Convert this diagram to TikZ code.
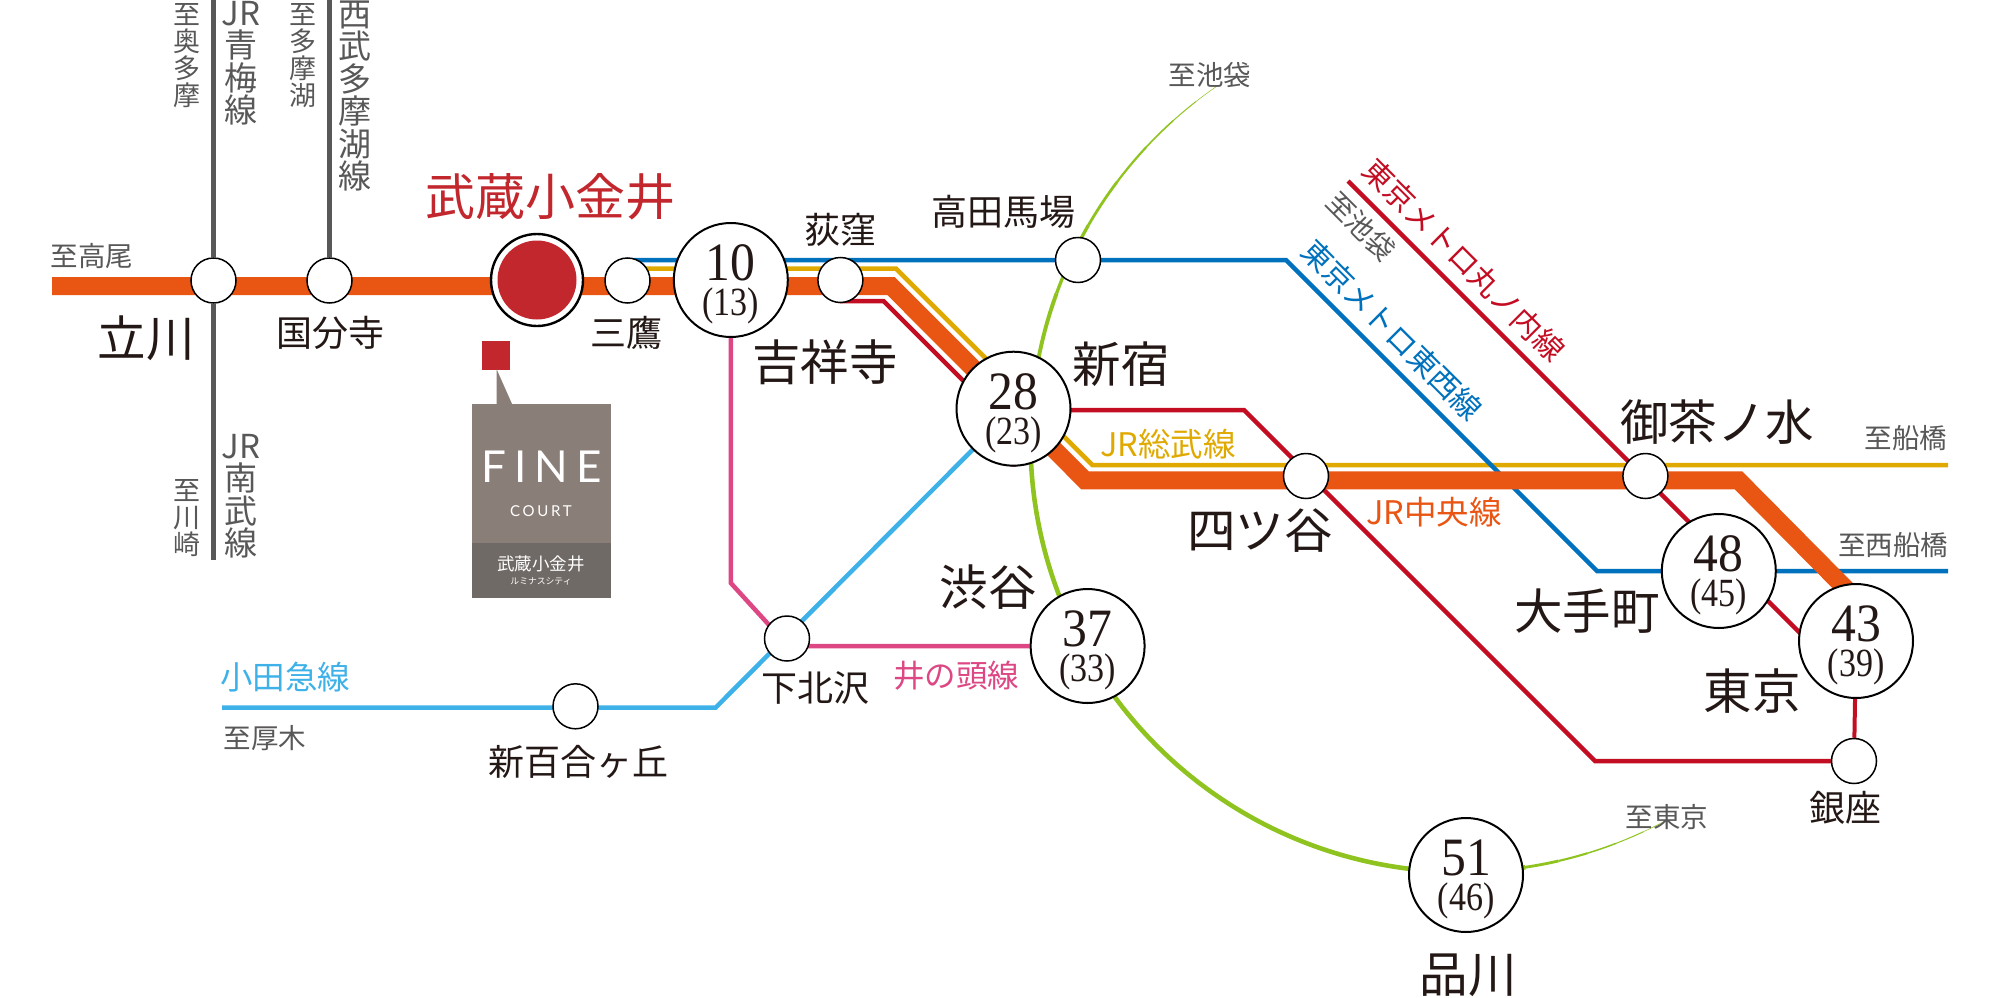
\documentclass[tikz,border=0pt]{standalone}
\usepackage{fontspec}
\usetikzlibrary{backgrounds}
\newfontfamily\jpfont{Noto Sans CJK JP}
\newfontfamily\finefont[LetterSpace=18]{Lato}
\newfontfamily\nofont{Liberation Serif}
\definecolor{chuo}{HTML}{E95513}
\definecolor{sobu}{HTML}{DFA900}
\definecolor{tozai}{HTML}{0071BC}
\definecolor{maru}{HTML}{C30D23}
\definecolor{keio}{HTML}{DC4784}
\definecolor{odakyu}{HTML}{3EB1E8}
\definecolor{yamanote}{HTML}{8FC31F}
\definecolor{sideline}{HTML}{595757}
\definecolor{ink}{HTML}{231815}
\definecolor{homered}{HTML}{C1272D}
\definecolor{finetop}{HTML}{8A7E78}
\definecolor{finelow}{HTML}{6F6A66}
\tikzset{
  stn/.style={circle,draw=black,fill=white,line width=1.5pt,minimum size=45pt,inner sep=0pt},
  bigno/.style={inner sep=0pt,font=\nofont\fontsize{54}{54}\selectfont,xscale=.92,text=ink},
  smallno/.style={inner sep=0pt,font=\nofont\fontsize{40}{40}\selectfont,xscale=.85,text=ink},
  bigstn/.style 2 args={circle,draw=black,fill=white,line width=2pt,minimum size=114pt,inner sep=0pt,
    label={[bigno,yshift=17pt]center:#1},label={[smallno,yshift=-26pt]center:(#2)}},
  homestn/.style={circle,draw=black,fill=white,line width=2.4pt,minimum size=92pt,inner sep=0pt},
  homedot/.style={circle,fill=homered,minimum size=79pt,inner sep=0pt},
  name35/.style={inner sep=0pt,text=ink,font=\jpfont\fontsize{36}{36}\selectfont},
  name47/.style={inner sep=0pt,text=ink,font=\jpfont\fontsize{48.5}{48.5}\selectfont},
  towards/.style={inner sep=0pt,text=sideline,font=\jpfont\fontsize{27.5}{27.5}\selectfont},
  towardsv/.style={inner sep=0pt,text=sideline,align=center,font=\jpfont\fontsize{27}{27}\selectfont},
  linev/.style={inner sep=0pt,text=sideline,align=center,font=\jpfont\fontsize{33}{32.5}\selectfont},
  linename/.style={inner sep=0pt,font=\jpfont\fontsize{32.5}{32.5}\selectfont},
  metroname/.style={inner sep=0pt,rotate=-45,font=\jpfont\fontsize{30}{30}\selectfont},
  chuoline/.style={draw=chuo,line width=18pt,line join=miter},
  thinline/.style={line width=4.5pt,line join=miter},
  sideloop/.style={draw=sideline,line width=5pt}
}
\begin{document}
\begin{tikzpicture}[x=1pt,y=-1pt]
\useasboundingbox (0,0) rectangle (2000,998);
\node[stn]            (tachikawa)  at ( 213.5,280.5) {};
\node[stn]            (kokubunji)  at ( 329.5,280.5) {};
\node[homestn]        (musashi)    at ( 537.0,280.0) {};
\node[homedot]        (musashidot) at ( 537.0,280.0) {};
\node[stn]            (mitaka)     at ( 627.5,280.5) {};
\node[bigstn={10}{13}] (kichijoji) at ( 730.8,280.0) {};
\node[stn]            (ogikubo)    at ( 840.4,280.0) {};
\node[stn]            (baba)       at (1078.0,260.0) {};
\node[bigstn={28}{23}] (shinjuku)  at (1013.5,408.7) {};
\node[stn]            (yotsuya)    at (1306.0,476.0) {};
\node[stn]            (ochanomizu) at (1645.4,476.0) {};
\node[bigstn={48}{45}] (otemachi)  at (1718.8,571.0) {};
\node[bigstn={43}{39}] (tokyo)     at (1856.0,641.0) {};
\node[stn]            (ginza)      at (1854.0,761.0) {};
\node[bigstn={51}{46}] (shinagawa) at (1466.0,875.0) {};
\node[bigstn={37}{33}] (shibuya)   at (1087.6,646.0) {};
\node[stn]            (shimokita)  at ( 787.0,638.5) {};
\node[stn]            (yurigaoka)  at ( 575.5,706.3) {};
\coordinate (chuoW)   at (  52.0,286.0);
\coordinate (chuoE)   at (1850.0,593.0);
\coordinate (sobuW)   at ( 638.0,268.6);
\coordinate (sobuE)   at (1948.0,465.0);
\coordinate (tozaiW)  at ( 634.0,260.0);
\coordinate (tozaiE)  at (1948.0,571.0);
\coordinate (maruN)   at (1348.0,181.0);
\coordinate (maruS)   at (1830.0,663.0);
\coordinate (odakyuW) at ( 222.0,707.7);
\coordinate (oumeN)   at ( 213.5,0.0);
\coordinate (nanbuS)  at ( 213.5,559.5);
\coordinate (seibuN)  at ( 329.5,0.0);
\coordinate (yamanoteC) at (1461.5,441.0);
\begin{scope}[on background layer]
  \foreach \a/\b/\w in {124.6/128/.5,128/132/1,132/137/1.6,137/143/2.2,143/150/2.8,150/160/3.3,160/175/3.9,175/278.5/4.6,278.3/283/2.8,283/287/2.1,287/291/1.5,291/295/1,295/298/.5}
    \draw[yamanote,line width=\w pt] ([shift=(\a:431pt)]yamanoteC) arc[start angle=\a,end angle=\b,radius=431pt];
  \draw[sideloop] (oumeN) -- (tachikawa);
  \draw[sideloop] (tachikawa) -- (nanbuS);
  \draw[sideloop] (seibuN) -- (kokubunji);
  \draw[sobu,thinline]  (sobuW) -- (896,268.6) -- (1092.4,465) -- (sobuE);
  \draw[tozai,thinline] (tozaiW) -- (1286,260) -- (1597,571) -- (tozaiE);
  \draw[maru,thinline]  (ogikubo) -- (840,301) -- (883.5,301) -- (980,397.5);
  \draw[maru,thinline]  (shinjuku) -- (1013.5,410) -- (1244,410) -- (1595,761) -- (ginza);
  \draw[maru,thinline]  (maruN) -- (maruS);
  \draw[maru,line width=4pt] (tokyo) -- (ginza);
  \draw[keio,thinline]  (kichijoji) -- (730.8,583) -- (780,637) -- (788,646) -- (shibuya);
  \draw[odakyu,thinline] (odakyuW) -- (715.5,707.7) -- (shinjuku);
  \draw[chuoline] (chuoW) -- (891,286) -- (1085,480.3) -- (1738.4,480.3) -- (chuoE);
\end{scope}
\node[name47]  (tachikawal)  at ( 146,338) {立川};
\node[name35]  (kokubunjil)  at ( 330,333) {国分寺};
\node[name47,text=homered,font=\jpfont\fontsize{50}{50}\selectfont] (musashil) at (550,197) {武蔵小金井};
\node[name35]  (mitakal)     at ( 626,333) {三鷹};
\node[name47]  (kichijojil)  at ( 825,362) {吉祥寺};
\node[name35]  (ogikubol)    at ( 840,230) {荻窪};
\node[name35]  (babal)       at (1003,212) {高田馬場};
\node[name47]  (shinjukul)   at (1121,364) {新宿};
\node[name47]  (yotsuyal)    at (1260,531) {四ツ谷};
\node[name47]  (ochanomizul) at (1717,422) {御茶ノ水};
\node[name47]  (otemachil)   at (1587,611) {大手町};
\node[name47]  (tokyol)      at (1752,691) {東京};
\node[name35]  (ginzal)      at (1845,808) {銀座};
\node[name47]  (shinagawal)  at (1468,975) {品川};
\node[name47]  (shibuyal)    at ( 988,587) {渋谷};
\node[name35]  (shimokital)  at ( 815,688) {下北沢};
\node[name35]  (yurigaokal)  at ( 578,762) {新百合ヶ丘};
\node[towards] (toTakao)     at (  92,256) {至高尾};
\node[towards] (toAtsugi)    at ( 265,738) {至厚木};
\node[towards] (toIkebukuro) at (1210,75)  {至池袋};
\node[towards] (toFunabashi) at (1906,438) {至船橋};
\node[towards] (toNishifuna) at (1893,545) {至西船橋};
\node[towards] (toTokyo)     at (1667,817) {至東京};
\node[towards,rotate=-45] (toIkebukuro2) at (1361,226) {至池袋};
\node[towardsv] (toOkutama)  at (186.6,56)  {至\\奥\\多\\摩};
\node[towardsv] (toTamako)   at (303,56)    {至\\多\\摩\\湖};
\node[towardsv] (toKawasaki) at (186.6,518) {至\\川\\崎};
\node[linev]    (ouml)       at (241,63)    {JR\\青\\梅\\線};
\node[linev]    (nanbul)     at (241,496)   {JR\\南\\武\\線};
\node[linev]    (seibul)     at (355,96)    {西\\武\\多\\摩\\湖\\線};
\node[linename,text=sobu]    (sobul)   at (1168,444) {JR総武線};
\node[linename,text=chuo]    (chuol)   at (1434,512) {JR中央線};
\node[linename,text=odakyu]  (odakyul) at (285,677)  {小田急線};
\node[linename,text=keio,font=\jpfont\fontsize{31.5}{31.5}\selectfont] (keiol) at (956,676) {井の頭線};
\node[metroname,text=tozai] (tozail) at (1392,330) {東京メトロ東西線};
\node[metroname,text=maru]  (marul)  at (1464,260) {東京メトロ丸ノ内線};
\fill[homered] (482,341) rectangle (510,370);
\fill[finetop] (496.5,369) -- (496.5,405) -- (512.5,405) -- cycle;
\fill[finetop] (472,404) rectangle (611,542.5);
\fill[finelow] (472,542.5) rectangle (611,597.5);
\node[inner sep=0pt,text=white,font=\finefont\fontsize{44}{44}\selectfont] (finel)  at (541.5,467) {FINE};
\node[inner sep=0pt,text=white,font=\finefont\fontsize{15}{15}\selectfont] (courtl) at (541,511)   {COURT};
\node[inner sep=0pt,text=white,font=\jpfont\fontsize{17.5}{17.5}\selectfont] (finesub) at (541,564) {武蔵小金井};
\node[inner sep=0pt,text=white,font=\jpfont\fontsize{8.8}{8.8}\selectfont] (finesub2) at (541,581) {ルミナスシティ};
\end{tikzpicture}
\end{document}
